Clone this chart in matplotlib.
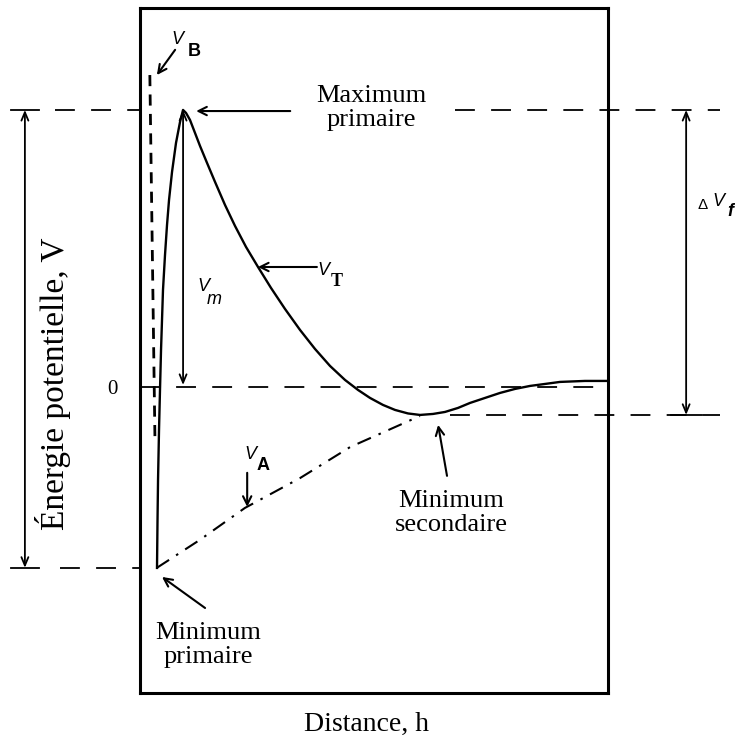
import matplotlib
matplotlib.use("Agg")
import matplotlib.pyplot as plt

# --- values (distance 0..10, energy with primary max = 10) ---
vt_dist = [0.363, 0.374, 0.385, 0.406, 0.427, 0.449, 0.470, 0.491, 0.534, 0.577,
           0.620, 0.684, 0.769, 0.855, 0.919, 0.983, 1.068, 1.175, 1.282, 1.432,
           1.603, 1.816, 2.030, 2.265, 2.521, 2.799, 3.098, 3.419, 3.739, 4.060,
           4.380, 4.658, 4.915, 5.192, 5.449, 5.726, 5.983, 6.261, 6.517, 6.795,
           7.051, 7.372, 7.692, 8.013, 8.333, 8.654, 8.974, 9.509, 10.0]
vt_energy = [-6.534, -4.801, -3.357, -1.552, -0.108, 1.336, 2.419, 3.502, 4.765, 5.848,
             6.751, 7.762, 8.809, 9.567, 10.0, 9.892, 9.639, 9.170, 8.700, 8.087,
             7.401, 6.570, 5.812, 5.054, 4.332, 3.574, 2.816, 2.058, 1.372, 0.758,
             0.253, -0.108, -0.397, -0.650, -0.830, -0.957, -1.011, -0.975, -0.903, -0.758,
             -0.578, -0.397, -0.217, -0.072, 0.036, 0.108, 0.181, 0.217, 0.217]

va_dist = [0.36, 1.28, 2.24, 3.42, 4.49, 5.98]
va_energy = [-6.53, -5.52, -4.37, -3.29, -2.17, -1.05]

vb_dist = [0.21, 0.32]
vb_energy = [11.26, -2.0]

e_max = 10.0
e_min1 = -6.53
e_min2 = -1.01
x_max = 0.92

SERIF = "Liberation Serif"
SANS = "Liberation Sans"

fig = plt.figure(figsize=(7.35, 7.48), dpi=100)
ax = fig.add_axes([0.1905, 0.0735, 0.6367, 0.9158])
ax.set_xlim(0, 10)
ax.set_ylim(-11.05, 13.68)
ax.set_xticks([])
ax.set_yticks([])
for s in ax.spines.values():
    s.set_linewidth(2.2)

# curves
ax.plot(vt_dist, vt_energy, color="black", lw=1.7, zorder=5, solid_joinstyle="round")
ax.plot(va_dist, va_energy, color="black", lw=1.5, linestyle=(0, (7, 4, 1.2, 4)))
ax.plot(vb_dist, vb_energy, color="black", lw=2.0, linestyle=(0, (4, 3)))

# dashed reference lines
dash = dict(color="black", lw=1.3, linestyle=(0, (11, 9)), clip_on=False)
ax.plot([0, 10], [0, 0], **dash)
ax.plot([-1.82, 0], [e_max, e_max], **dash)
ax.plot([6.73, 12.39], [e_max, e_max], **dash)
ax.plot([-1.71, 0], [e_min1, e_min1], **dash)
ax.plot([6.62, 12.39], [e_min2, e_min2], **dash)

# double arrows (left: total span, right: delta V_f)
arr2 = dict(arrowstyle="<->,head_length=0.6,head_width=0.25", lw=1.3, color="black",
            shrinkA=0, shrinkB=0)
ax.annotate("", xy=(-2.46, e_max), xytext=(-2.46, e_min1), arrowprops=arr2,
            annotation_clip=False)
ax.plot([-2.75, -2.15], [e_max, e_max], color="black", lw=1.3, clip_on=False)
ax.plot([-2.75, -2.15], [e_min1, e_min1], color="black", lw=1.3, clip_on=False)
ax.annotate("", xy=(11.67, e_max), xytext=(11.67, e_min2), arrowprops=arr2,
            annotation_clip=False)
ax.plot([11.35, 12.0], [e_min2, e_min2], color="black", lw=1.3, clip_on=False)

# V_m arrow from the maximum down to zero
ax.annotate("", xy=(x_max, 0.07), xytext=(x_max, e_max), arrowprops=arr2)

# single arrows
arr = dict(arrowstyle="->,head_length=0.6,head_width=0.3", lw=1.5, color="black",
           shrinkA=0, shrinkB=0)
ax.annotate("", xy=(1.20, 9.96), xytext=(3.21, 9.96), arrowprops=arr)
ax.annotate("", xy=(2.52, 4.33), xytext=(3.78, 4.33), arrowprops=arr)
ax.annotate("", xy=(2.29, -4.33), xytext=(2.29, -3.10), arrowprops=arr)
ax.annotate("", xy=(0.36, 11.26), xytext=(0.75, 12.17), arrowprops=arr)
ax.annotate("", xy=(6.37, -1.37), xytext=(6.56, -3.21), arrowprops=arr)
ax.annotate("", xy=(0.47, -6.86), xytext=(1.39, -7.98), arrowprops=arr)

# text labels
txt = dict(family=SERIF, fontsize=19, ha="center", va="center", linespacing=1.15)
ax.text(4.94, 10.07, "Maximum\nprimaire", **txt)
ax.text(6.65, -4.55, "Minimum\nsecondaire", **txt)
ax.text(1.45, -9.31, "Minimum\nprimaire", **txt)
ax.text(-0.58, -0.08, "0", family=SERIF, fontsize=15, ha="center", va="center")
ax.text(-1.85, 0.1, "Énergie potentielle, V", family=SERIF, fontsize=24,
        rotation=90, ha="center", va="center", clip_on=False)
ax.text(4.85, -12.2, "Distance, h", family=SERIF, fontsize=20,
        ha="center", va="center", clip_on=False)


def vlabel(xv, yv, sub, xs, ys, **subkw):
    ax.text(xv, yv, "V", family=SANS, style="italic", fontsize=13,
            ha="center", va="center", clip_on=False)
    kw = dict(family=SANS, fontsize=13, ha="center", va="center", clip_on=False)
    kw.update(subkw)
    ax.text(xs, ys, sub, **kw)


vlabel(0.81, 12.56, "B", 1.16, 12.12, weight="bold")
vlabel(1.35, 3.61, "m", 1.58, 3.14, style="italic")
vlabel(3.91, 4.22, "T", 4.21, 3.79, family=SERIF, weight="bold")
vlabel(2.37, -2.45, "A", 2.63, -2.85, weight="bold")
ax.text(12.03, 6.57, "\u0394", family=SANS, fontsize=11, ha="center", va="center",
        clip_on=False)
vlabel(12.37, 6.68, "f", 12.61, 6.35, style="italic", weight="bold")

fig.savefig("out.png", dpi=100)
